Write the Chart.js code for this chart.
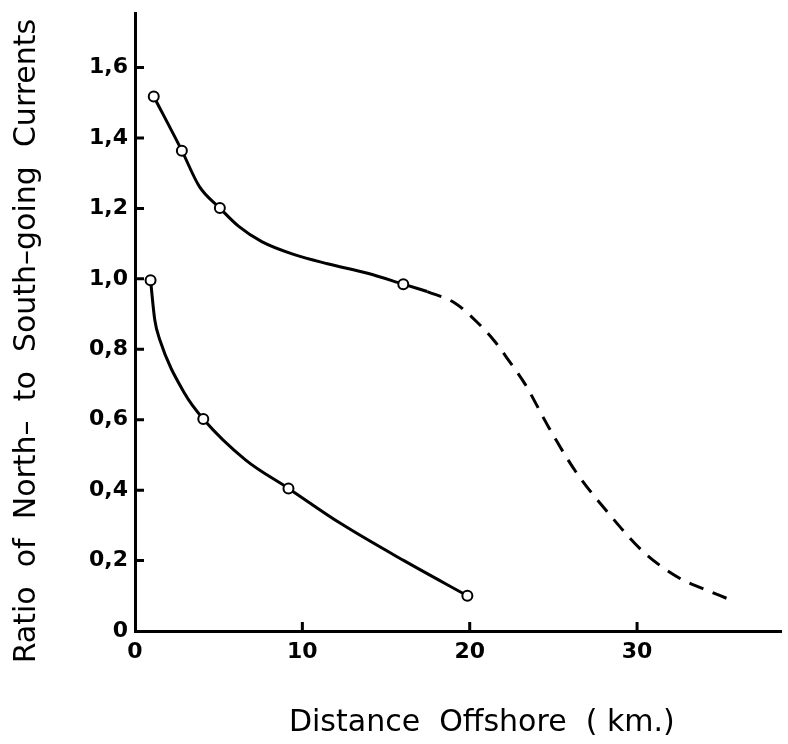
<!DOCTYPE html>
<html>
<head>
<meta charset="utf-8">
<script src="https://cdn.jsdelivr.net/npm/chart.js@4.4.0/dist/chart.umd.min.js"></script>
<style>
  body { margin: 0; background: #fff; }
</style>
</head>
<body>
<canvas id="myChart" width="788" height="744"></canvas>
<script>
// tick values and labels
const xTicks = [0, 10, 20, 30]
const yTicks = [0, 0.2, 0.4, 0.6, 0.8, 1.0, 1.2, 1.4, 1.6]
const yTickLabels = ['0', '0,2', '0,4', '0,6', '0,8', '1,0', '1,2', '1,4', '1,6']

// measured stations (open circles)
const upperX = [1.12, 2.8, 5.07, 16.03]
const upperY = [1.518, 1.364, 1.201, 0.985]
const lowerX = [0.93, 4.08, 9.17, 19.86]
const lowerY = [0.996, 0.602, 0.405, 0.10]

// drawn curves
const upperLineX = [1.12, 2.8, 3.85, 5.07, 6.2, 7.6, 9.57, 11.5, 13.9, 16.03, 17.46]
const upperLineY = [1.518, 1.364, 1.262, 1.201, 1.149, 1.105, 1.068, 1.043, 1.016, 0.985, 0.964]
const dashedX = [17.46, 19.13, 20.4, 21.5, 22.38, 23.27, 24.75, 26.33, 28.3, 30.37, 32.54, 33.9, 35.5]
const dashedY = [0.964, 0.931, 0.879, 0.822, 0.765, 0.704, 0.576, 0.453, 0.334, 0.225, 0.150, 0.121, 0.09]
const lowerLineX = [0.93, 1.18, 1.48, 2.96, 4.08, 6.6, 9.17, 12.3, 16.1, 19.86]
const lowerLineY = [0.996, 0.884, 0.827, 0.675, 0.602, 0.486, 0.405, 0.305, 0.199, 0.10]

const pts = (xs, ys) => xs.map((x, i) => ({x: x, y: ys[i]}))

// tick marks point inward, like the original drawing
const innerTicks = {
    id: 'innerTicks',
    afterDraw(chart) {
        const ctx = chart.ctx
        const xs = chart.scales.x, ys = chart.scales.y
        ctx.save()
        ctx.strokeStyle = '#000'
        ctx.lineWidth = 3
        ctx.beginPath()
        yTicks.forEach(v => {
            if (v === 0) return
            const py = ys.getPixelForValue(v)
            ctx.moveTo(xs.left, py)
            ctx.lineTo(xs.left + 9, py)
        })
        xTicks.forEach(v => {
            if (v === 0) return
            const px = xs.getPixelForValue(v)
            ctx.moveTo(px, ys.bottom)
            ctx.lineTo(px, ys.bottom - 9)
        })
        ctx.stroke()
        ctx.restore()
    }
}

const lineStyle = {
    showLine: true,
    borderColor: '#000',
    borderWidth: 3,
    pointRadius: 0,
    cubicInterpolationMode: 'monotone',
    fill: false
}
const markerStyle = {
    showLine: false,
    pointRadius: 5,
    pointBorderWidth: 2,
    pointBackgroundColor: '#fff',
    pointBorderColor: '#000'
}

const tickFont = {family: '"DejaVu Sans", sans-serif', size: 22, weight: 'bold'}

new Chart('myChart', {
    type: 'scatter',
    data: {
        datasets: [
            Object.assign({data: pts(upperX, upperY)}, markerStyle),
            Object.assign({data: pts(lowerX, lowerY)}, markerStyle),
            Object.assign({data: pts(upperLineX, upperLineY)}, lineStyle),
            Object.assign({data: pts(lowerLineX, lowerLineY)}, lineStyle),
            Object.assign({data: pts(dashedX, dashedY), borderDash: [15, 10]}, lineStyle)
        ]
    },
    options: {
        responsive: false,
        animation: false,
        layout: {padding: {top: 13, right: 0, left: 0, bottom: 0}},
        plugins: {
            legend: {display: false},
            tooltip: {enabled: false}
        },
        scales: {
            x: {
                type: 'linear',
                min: 0,
                max: 38.6,
                afterBuildTicks: (s) => { s.ticks = xTicks.map(v => ({value: v})) },
                afterFit: (s) => { s.height = 113; s.paddingLeft = 0; s.paddingRight = 0 },
                grid: {display: true, drawOnChartArea: false, drawTicks: false},
                border: {display: true, color: '#000', width: 3},
                ticks: {color: '#000', font: tickFont, padding: 8, maxRotation: 0},
                title: {
                    display: true,
                    text: '     Distance  Offshore  ( km.)',
                    color: '#000',
                    font: {family: '"DejaVu Sans", sans-serif', size: 30},
                    padding: {top: 0, bottom: 3}
                }
            },
            y: {
                type: 'linear',
                min: 0,
                max: 1.755,
                afterBuildTicks: (s) => { s.ticks = yTicks.map(v => ({value: v})) },
                afterFit: (s) => { s.width = 135; s.paddingTop = 0; s.paddingBottom = 0 },
                grid: {display: true, drawOnChartArea: false, drawTicks: false},
                border: {display: true, color: '#000', width: 3},
                ticks: {
                    color: '#000',
                    font: tickFont,
                    padding: 7,
                    callback: (v) => yTickLabels[yTicks.indexOf(v)]
                },
                title: {
                    display: true,
                    text: 'Ratio  of  North–  to  South–going  Currents    ',
                    color: '#000',
                    font: {family: '"DejaVu Sans", sans-serif', size: 30},
                    padding: {top: 9, bottom: 0}
                }
            }
        }
    },
    plugins: [innerTicks]
})
</script>
</body>
</html>
